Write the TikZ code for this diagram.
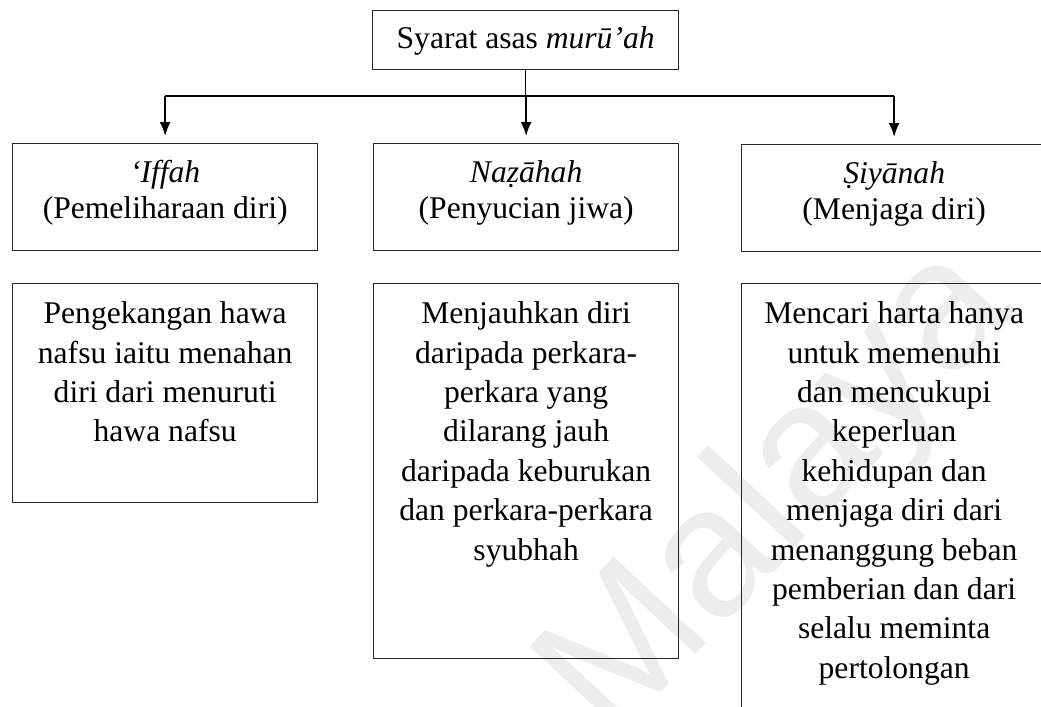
\documentclass[tikz,border=0pt]{standalone}
\usepackage{fontspec}
\setmainfont{Liberation Serif}
\newfontfamily\markfont{Liberation Sans}
\usetikzlibrary{arrows.meta,positioning}

\newcommand{\rows}[1]{\begin{tabular}[t]{@{}c@{}}#1\end{tabular}}

\tikzset{
  every node/.style={font=\fontsize{15.8}{19.7}\selectfont},
  box/.style={rectangle, draw=black!85, line width=0.65pt, anchor=north west,
              inner xsep=0pt, inner ysep=0pt, minimum width=152.5pt},
  head/.style={box, font=\fontsize{15.8}{17.8}\selectfont, text height=19.5pt, text depth=34pt},
  desc/.style={box, text height=20pt},
  link/.style={line width=0.55pt},
  arrow/.style={line width=1pt, -{Latex[length=7pt,width=5.5pt]}}
}

\begin{document}
\begin{tikzpicture}[x=0.5pt, y=-0.5pt]
    \clip (0,0) rectangle (1041,707);

    % Watermark
    \node (mark) [rotate=47, text=black!7, font=\markfont\fontsize{92}{92}\selectfont] at (780,495) {Malaya};

    % Nodes
    \node (Syarat) [box, minimum width=153pt, text height=19pt, text depth=10.5pt] at (372,10) {Syarat asas \textit{murū’ah}};

    \node (Iffah)   [head] at (12,143)  {\rows{\textit{‘Iffah}\\(Pemeliharaan diri)}};
    \node (Nazahah) [head] at (373,143) {\rows{\textit{Naẓāhah}\\(Penyucian jiwa)}};
    \node (Siyanah) [head] at (741,144) {\rows{\textit{Ṣiyānah}\\(Menjaga diri)}};

    \node (IffahText)   [desc, text depth=89.5pt]  at (12,283)  {\rows{Pengekangan hawa\\nafsu iaitu menahan\\diri dari menuruti\\hawa nafsu}};
    \node (NazahahText) [desc, text depth=167.5pt] at (373,283) {\rows{Menjauhkan diri\\daripada perkara-\\perkara yang\\dilarang jauh\\daripada keburukan\\dan perkara-perkara\\syubhah}};
    \node (SiyanahText) [desc, text depth=215pt]   at (741,283) {\rows{Mencari harta hanya\\untuk memenuhi\\dan mencukupi\\keperluan\\kehidupan dan\\menjaga diri dari\\menanggung beban\\pemberian dan dari\\selalu meminta\\pertolongan}};

    %Lines
    \coordinate (fork) at (Syarat.south |- 0,96);
    \draw[link] (Syarat.south) -- (fork);
    \draw[link] (Iffah.north |- fork) -- (Siyanah.north |- fork);
    \foreach \n in {Iffah,Nazahah,Siyanah}
        \draw[arrow] (\n.north |- fork) -- ([yshift=3.5pt]\n.north);
\end{tikzpicture}
\end{document}
